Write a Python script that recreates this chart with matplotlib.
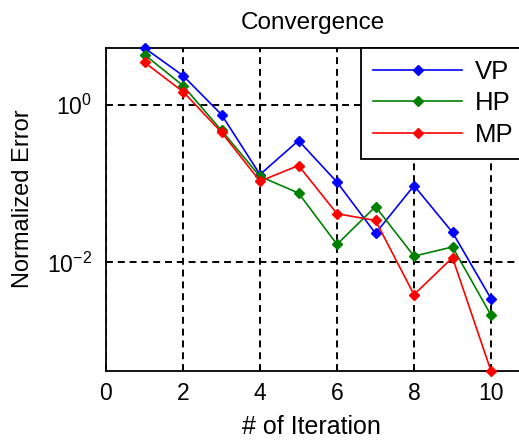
import matplotlib
matplotlib.use("Agg")
import matplotlib.pyplot as plt
from matplotlib.ticker import FixedLocator, LogFormatterMathtext, NullLocator

plt.rcParams['font.family'] = ['Liberation Sans', 'DejaVu Sans']
plt.rcParams['mathtext.fontset'] = 'custom'
plt.rcParams['mathtext.rm'] = 'Liberation Sans'
plt.rcParams['mathtext.it'] = 'Liberation Sans'
plt.rcParams['lines.scale_dashes'] = False

# Normalized error per iteration for each method
iterations = [1, 2, 3, 4, 5, 6, 7, 8, 9, 10]
vp = [5.22, 2.33, 0.747, 0.130, 0.350, 0.104, 0.0233, 0.094, 0.024, 0.00347]
hp = [4.30, 1.74, 0.470, 0.123, 0.0757, 0.0169, 0.051, 0.0120, 0.0157, 0.00214]
mp = [3.43, 1.46, 0.446, 0.107, 0.169, 0.0414, 0.034, 0.0039, 0.0115, 0.00042]
series = [("VP", vp, (0, 0, 1)), ("HP", hp, (0, 0.5, 0)), ("MP", mp, (1, 0, 0))]
x_ticks = [0, 2, 4, 6, 8, 10]
y_ticks = [1e-2, 1e0]

fig = plt.figure(figsize=(5.19, 4.42), dpi=100)
W, H = 519, 442
ax = fig.add_axes([106 / W, 71 / H, 462 / W, 323 / H])

for name, vals, col in series:
    ax.semilogy(iterations, vals, color=col, lw=1.2, marker='D', ms=5.5,
                mfc=col, mec=col, label=name, clip_on=False, zorder=3)

ax.set_xlim(0, 12)
all_vals = vp + hp + mp
ax.set_ylim(min(all_vals), max(all_vals))

ax.xaxis.set_major_locator(FixedLocator(x_ticks))
ax.yaxis.set_major_locator(FixedLocator(y_ticks))
ax.yaxis.set_major_formatter(LogFormatterMathtext())
ax.yaxis.set_minor_locator(NullLocator())

ax.grid(True, which='major', color='black', linestyle=(0, (5.0, 3.5)), lw=1.4)
ax.tick_params(direction='in', length=4, width=1.1, labelsize=16.5, colors='black')
ax.tick_params(axis='x', pad=8)
ax.tick_params(axis='y', pad=10)
for sp in ax.spines.values():
    sp.set_linewidth(1.3)
    sp.set_color('black')

fig.text(313 / W, 1 - 23 / H, "Convergence", ha='center', va='center', fontsize=17.5)
fig.text(311 / W, 1 - 427 / H, "# of Iteration", ha='center', va='center', fontsize=18)
fig.text(23 / W, 1 - 199 / H, "Normalized Error", ha='center', va='center',
         rotation=90, fontsize=17)

leg = ax.legend(loc='upper left', bbox_to_anchor=(361 / W, 1 - 48 / H),
                bbox_transform=fig.transFigure, fontsize=18.5, frameon=True,
                fancybox=False, edgecolor='black', borderpad=0.45,
                handlelength=3.5, labelspacing=0.3, handletextpad=0.5,
                borderaxespad=0)
leg.get_frame().set_linewidth(1.3)
leg.get_frame().set_facecolor('white')
leg.get_frame().set_alpha(1)

fig.savefig("out.png", dpi=100)
